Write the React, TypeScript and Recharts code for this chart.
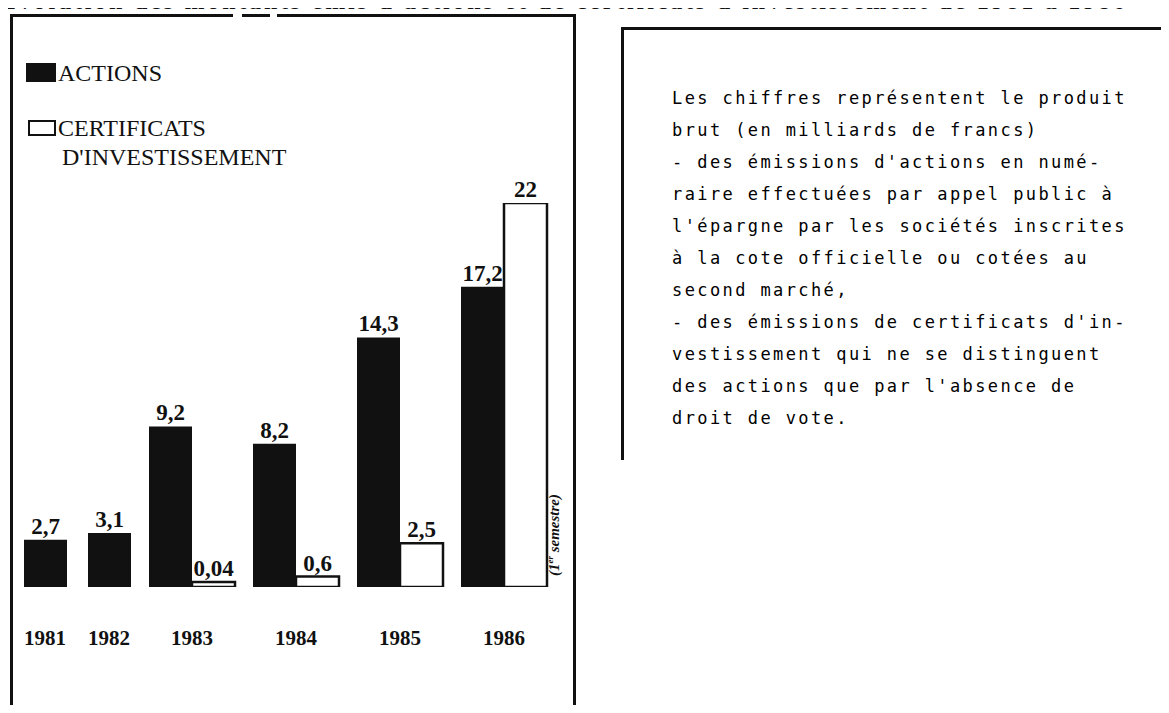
import { Bar, BarChart, LabelList, XAxis, YAxis } from "recharts";

const years = ["1981", "1982", "1983", "1984", "1985", "1986"];
const actions = [2.7, 3.1, 9.2, 8.2, 14.3, 17.2];
const certificats: (number | null)[] = [null, null, 0.04, 0.6, 2.5, 22];

const title =
  "Évolution des montants émis d'actions et de certificats d'investissement de 1981 à 1986";

const notes = [
  "Les chiffres représentent le produit",
  "brut (en milliards de francs)",
  "- des émissions d'actions en numé-",
  "raire effectuées par appel public à",
  "l'épargne par les sociétés inscrites",
  "à la cote officielle ou cotées au",
  "second marché,",
  "- des émissions de certificats d'in-",
  "vestissement qui ne se distinguent",
  "des actions que par l'absence de",
  "droit de vote.",
];

const rows = years.map((year, i) => ({
  year,
  actions: actions[i],
  certificats: certificats[i],
}));
// 1981-1982 have no certificates, so their groups are narrower
const early = rows.filter((r) => r.certificats == null);
const late = rows.filter((r) => r.certificats != null);

const INK = "#111";
const CHART_TOP = 170;
const CHART_H = 497;
const serif = "'Liberation Serif', 'Times New Roman', serif";

const fmt = (v: any) => String(v).replace(".", ",");

const labelProps = {
  position: "top" as const,
  offset: 6,
  formatter: fmt,
  fill: INK,
  stroke: "none",
  fontFamily: serif,
  fontWeight: 700,
  fontSize: 23,
};

function YearTick(props: any) {
  const { x, y, payload } = props;
  return (
    <text
      x={x}
      y={y + 51}
      textAnchor="middle"
      dominantBaseline="central"
      fill={INK}
      fontFamily={serif}
      fontWeight={700}
      fontSize={21}
    >
      {payload.value}
    </text>
  );
}

function Panel({ data, left, width, withCert }: any) {
  return (
    <div style={{ position: "absolute", left, top: CHART_TOP }}>
      <BarChart
        width={width}
        height={CHART_H}
        data={data}
        margin={{ top: 33, right: 0, bottom: 0, left: 0 }}
        barGap={0}
        barSize={43}
      >
        <XAxis
          dataKey="year"
          axisLine={false}
          tickLine={false}
          tickSize={0}
          tickMargin={0}
          height={80}
          interval={0}
          tick={<YearTick />}
        />
        <YAxis hide domain={[0, 22]} allowDataOverflow />
        <Bar dataKey="actions" fill={INK} isAnimationActive={false}>
          <LabelList dataKey="actions" {...labelProps} />
        </Bar>
        {withCert && (
          <Bar
            dataKey="certificats"
            fill="#fff"
            stroke={INK}
            strokeWidth={2.5}
            minPointSize={5}
            isAnimationActive={false}
          >
            <LabelList dataKey="certificats" {...labelProps} />
          </Bar>
        )}
      </BarChart>
    </div>
  );
}

const line = (left: number, top: number, width: number, height: number) => (
  <div style={{ position: "absolute", left, top, width, height, background: INK }} />
);

const legendText = {
  position: "absolute" as const,
  fontFamily: serif,
  fontSize: 24,
  lineHeight: "26px",
  color: INK,
};

export default function App() {
  return (
    <div
      style={{
        position: "relative",
        width: 1169,
        height: 713,
        margin: -8,
        overflow: "hidden",
        background: "#fff",
      }}
    >
      <div
        style={{
          position: "absolute",
          left: 0,
          top: -11,
          fontFamily: serif,
          fontWeight: 700,
          fontSize: 24,
          lineHeight: "24px",
          letterSpacing: 2.8,
          whiteSpace: "nowrap",
          color: INK,
        }}
      >
        {title}
      </div>

      {/* left frame */}
      {line(10, 14, 3, 720)}
      {line(573, 14, 3, 720)}
      {line(10, 14, 223, 3)}
      {line(242, 14, 28, 3)}
      {line(277, 14, 299, 3)}

      {/* right frame */}
      {line(621, 27, 548, 3)}
      {line(621, 27, 3, 433)}

      {/* legend */}
      <div style={{ position: "absolute", left: 26, top: 63, width: 30, height: 19, background: INK }} />
      <div
        style={{
          position: "absolute",
          left: 28,
          top: 120,
          width: 28,
          height: 16,
          border: `2px solid ${INK}`,
          boxSizing: "border-box",
        }}
      />
      <div style={{ ...legendText, left: 58, top: 60 }}>ACTIONS</div>
      <div style={{ ...legendText, left: 58, top: 115 }}>CERTIFICATS</div>
      <div style={{ ...legendText, left: 62, top: 144 }}>D'INVESTISSEMENT</div>

      <Panel data={early} left={13} width={128} withCert={false} />
      <Panel data={late} left={140} width={416} withCert />

      <div
        style={{
          position: "absolute",
          left: 554,
          top: 535,
          transform: "translate(-50%, -50%) rotate(-90deg)",
          fontFamily: serif,
          fontWeight: 700,
          fontStyle: "italic",
          fontSize: 15,
          whiteSpace: "nowrap",
          color: INK,
        }}
      >
        (1<sup style={{ fontSize: 9 }}>er</sup> semestre)
      </div>

      <div
        style={{
          position: "absolute",
          left: 672,
          top: 82,
          fontFamily: "'DejaVu Sans Mono', monospace",
          fontSize: 17,
          lineHeight: "32px",
          letterSpacing: 2.4,
          whiteSpace: "pre",
          color: "#000",
        }}
      >
        {notes.join("\n")}
      </div>
    </div>
  );
}
